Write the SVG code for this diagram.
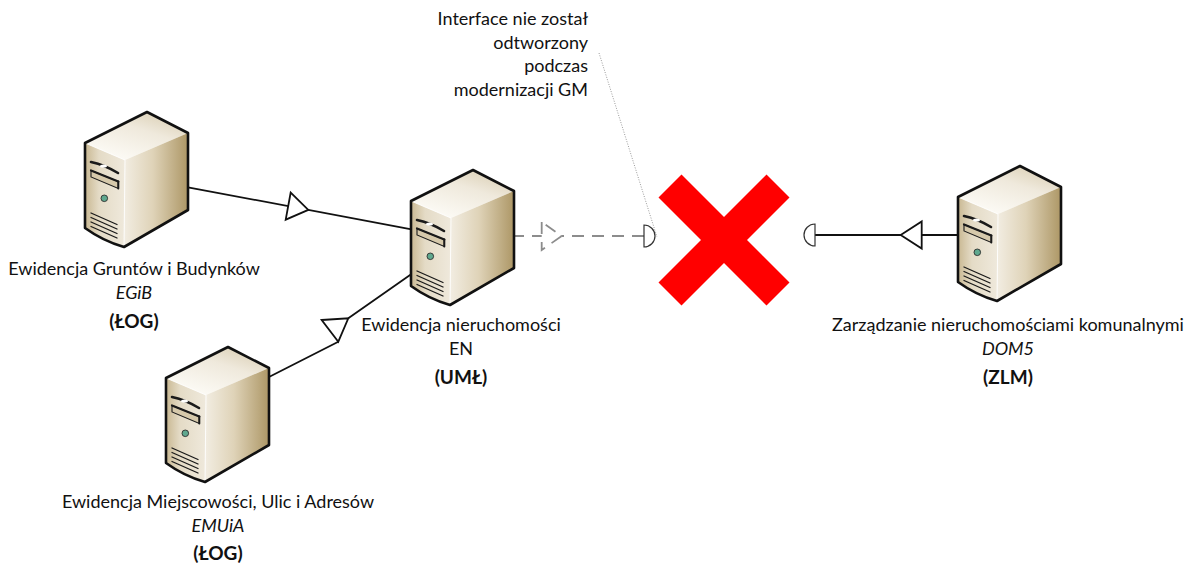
<svg xmlns="http://www.w3.org/2000/svg" xmlns:xlink="http://www.w3.org/1999/xlink" width="1192" height="567" viewBox="0 0 1192 567">
<style>
.t{font-family:Lato,"Liberation Sans",sans-serif;font-size:18px;fill:#111;text-anchor:middle}
.i{font-style:italic}
.b{font-weight:bold;font-size:19px}
.r{text-anchor:end}
.ln{stroke:#111;stroke-width:1.8;fill:none}
.tri{fill:#fff;stroke:#111;stroke-width:1.8;stroke-linejoin:miter}
.dash{stroke:#8c8c8c;stroke-width:1.8;stroke-dasharray:12 8;fill:none}
.dtri{fill:#fff;stroke:#8c8c8c;stroke-width:1.8;stroke-dasharray:12 8}
.semi{fill:#fff;stroke:#333;stroke-width:1.2}
.ol{fill:none;stroke:#111;stroke-width:2.6;stroke-linejoin:round}
.dk{fill:none;stroke:#1a1a1a;stroke-linecap:round}
</style>
<defs>
<linearGradient id="gTop" x1="0.3" y1="0.9" x2="0.85" y2="0.1">
<stop offset="0" stop-color="#fbf9f3"/><stop offset="0.6" stop-color="#efe9dc"/><stop offset="1" stop-color="#ddd2b9"/>
</linearGradient>
<linearGradient id="gFront" x1="0" y1="0" x2="1" y2="0">
<stop offset="0" stop-color="#c9b892"/><stop offset="0.35" stop-color="#e4dbc6"/><stop offset="1" stop-color="#efe9dc"/>
</linearGradient>
<linearGradient id="gRight" x1="0" y1="0" x2="1" y2="0">
<stop offset="0" stop-color="#f2ede2"/><stop offset="0.45" stop-color="#dfd3b8"/><stop offset="1" stop-color="#ad9766"/>
</linearGradient>
<g id="srv">
<path d="M0,31 L62,0 L103,21 L40,48 Z" fill="url(#gTop)"/>
<path d="M40,48 L103,21 L103,98 L39,135 Z" fill="url(#gRight)"/>
<path d="M0,31 L40,48 L39,135 Q18,129 0,116 Z" fill="url(#gFront)"/>
<path d="M0,31 L40,48 L39,135" fill="none" stroke="#fff" stroke-width="1" opacity="0.85"/>
<path d="M6,50 Q20,53 33,61" class="dk" stroke-width="2.6"/>
<ellipse cx="18.5" cy="54" rx="3.5" ry="1.6" fill="#fff"/>
<path d="M6,58.5 L33.3,69.5 L33.3,76.5 L6,65 Z" fill="#d6c9ab" stroke="#1a1a1a" stroke-width="1.1"/>
<path d="M6,58.5 L33.3,69.5" class="dk" stroke-width="2.2"/>
<path d="M33.3,69.5 L33.3,76.5" class="dk" stroke-width="2"/>
<circle cx="19.3" cy="86.3" r="3.3" fill="#5fa88e" stroke="#2e2e2e" stroke-width="0.9"/>
<path d="M6,101 L32,112.5 M6,105.5 L32,117 M6,110 L32,121.5 M6,114.5 L32,126" class="dk" stroke-width="1.3"/>
<path d="M0,31 L62,0 L103,21 L103,98 L39,135 Q18,129 0,116 Z" class="ol"/>
</g>
</defs>
<rect width="1192" height="567" fill="#fff"/>
<g id="connectors">
<path d="M188,187.3 L411.5,229.3" class="ln"/>
<polygon points="290.7,192.5 285.7,219.7 308.3,209.9" class="tri"/>
<path d="M267,378 L338.3,341.7 M348.3,318.3 L411.5,274" class="ln"/>
<polygon points="321.7,320 348.3,318.3 338.3,341.7" class="tri"/>
<path d="M512,236 L644,236" class="dash"/>
<polygon points="541.7,222 541.7,250 561.7,236" class="dtri"/>
<path d="M644,225 A11,11 0 0 1 644,247 Z" class="semi"/>
<path d="M958,235 L815,235" class="ln"/>
<polygon points="921.7,221.5 921.7,248.5 900.7,235" class="tri"/>
<path d="M815,224 A11,11 0 0 0 815,246 Z" class="semi"/>
</g>
<g id="node-egib">
<use xlink:href="#srv" x="85" y="112"/>
<text class="t" x="134" y="275">Ewidencja Gruntów i Budynków</text>
<text class="t i" x="134" y="299">EGiB</text>
<text class="t b" x="134" y="328">(ŁOG)</text>
</g>
<g id="node-en">
<use xlink:href="#srv" x="411" y="170"/>
<text class="t" x="461" y="331">Ewidencja nieruchomości</text>
<text class="t" x="461" y="355">EN</text>
<text class="t b" x="461" y="384">(UMŁ)</text>
</g>
<g id="node-emuia">
<use xlink:href="#srv" x="166" y="347"/>
<text class="t" x="218" y="508">Ewidencja Miejscowości, Ulic i Adresów</text>
<text class="t i" x="218" y="532">EMUiA</text>
<text class="t b" x="218" y="560">(ŁOG)</text>
</g>
<g id="node-dom5">
<use xlink:href="#srv" x="958" y="166"/>
<text class="t" x="1008" y="331">Zarządzanie nieruchomościami komunalnymi</text>
<text class="t i" x="1008" y="355">DOM5</text>
<text class="t b" x="1008" y="384">(ZLM)</text>
</g>
<g id="cross">
<polygon points="681.5,174.5 724,217 766.5,174.5 789.5,197.5 747,240 789.5,282.5 766.5,305.5 724,263 681.5,305.5 658.5,282.5 701,240 658.5,197.5" fill="#ff0000"/>
</g>
<g id="note">
<path d="M599,53 L657,237" stroke="#9a9a9a" stroke-width="1" stroke-dasharray="1 1.5" fill="none"/>
<text class="t r" x="588" y="25">Interface nie został</text>
<text class="t r" x="588" y="48.5">odtworzony</text>
<text class="t r" x="588" y="72">podczas</text>
<text class="t r" x="588" y="95.5">modernizacji GM</text>
</g>
</svg>
